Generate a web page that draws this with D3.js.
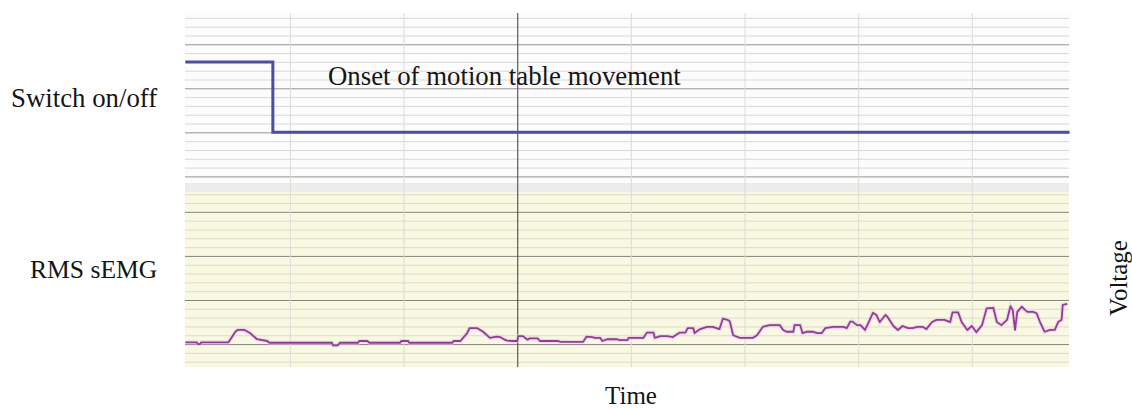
<!DOCTYPE html>
<html>
<head>
<meta charset="utf-8">
<script src="https://cdn.jsdelivr.net/npm/d3@7"></script>
<style>
  body { margin: 0; background: #fff; }
  text { font-family: "Liberation Serif", "Times New Roman", serif; fill: #151515; }
</style>
</head>
<body>
<div id="chart"></div>
<script>
// switch signal (time in grid units, level in grid units)
var switchTime = [0.08, 0.85, 7.86];
var switchLevel = [1.6, 0, 0];

// RMS sEMG trace
var emgTime = [0.08, 0.18, 0.19, 0.21, 0.22, 0.46, 0.52, 0.54, 0.60, 0.65, 0.71, 0.80, 0.82,
  1.37, 1.38, 1.42, 1.44, 1.60, 1.61, 1.68, 1.70, 1.97, 1.98, 2.04, 2.05, 2.43, 2.44, 2.50,
  2.56, 2.58, 2.65, 2.70, 2.76, 2.82, 2.85, 2.89, 2.91, 2.96, 3.00, 3.01, 3.05, 3.09, 3.11,
  3.18, 3.20, 3.36, 3.38, 3.58, 3.61, 3.66, 3.68, 3.73, 3.75, 3.79, 3.88, 3.90, 3.97, 3.98,
  4.11, 4.14, 4.20, 4.21, 4.26, 4.32, 4.37, 4.43, 4.48, 4.50, 4.55, 4.56, 4.61, 4.67, 4.72,
  4.78, 4.81, 4.85, 4.87, 4.90, 4.96, 5.07, 5.11, 5.16, 5.22, 5.31, 5.34, 5.37, 5.43, 5.44,
  5.49, 5.51, 5.55, 5.60, 5.64, 5.68, 5.71, 5.78, 5.87, 5.90, 5.93, 5.95, 5.99, 6.02, 6.06,
  6.09, 6.13, 6.16, 6.19, 6.24, 6.26, 6.31, 6.35, 6.39, 6.44, 6.48, 6.52, 6.57, 6.60, 6.65,
  6.69, 6.76, 6.81, 6.83, 6.88, 6.91, 6.96, 7.00, 7.04, 7.09, 7.13, 7.19, 7.22, 7.26, 7.31,
  7.34, 7.36, 7.38, 7.40, 7.44, 7.47, 7.49, 7.54, 7.57, 7.60, 7.64, 7.69, 7.73, 7.76, 7.79,
  7.80, 7.84];
var emgValue = [0.04, 0.04, 0.0, 0.0, 0.04, 0.04, 0.28, 0.32, 0.32, 0.25, 0.11, 0.07, 0.03,
  0.03, -0.03, -0.03, 0.03, 0.03, 0.07, 0.07, 0.03, 0.03, 0.07, 0.07, 0.03, 0.03, 0.07, 0.07,
  0.25, 0.36, 0.36, 0.28, 0.14, 0.17, 0.16, 0.10, 0.08, 0.07, 0.07, 0.18, 0.18, 0.10, 0.13,
  0.13, 0.07, 0.07, 0.05, 0.05, 0.17, 0.16, 0.14, 0.14, 0.07, 0.11, 0.11, 0.09, 0.09, 0.14,
  0.14, 0.26, 0.26, 0.14, 0.18, 0.18, 0.16, 0.26, 0.26, 0.36, 0.36, 0.25, 0.34, 0.39, 0.39,
  0.34, 0.58, 0.55, 0.52, 0.20, 0.14, 0.14, 0.20, 0.39, 0.43, 0.43, 0.32, 0.28, 0.28, 0.43,
  0.43, 0.25, 0.28, 0.28, 0.25, 0.25, 0.36, 0.39, 0.39, 0.36, 0.51, 0.51, 0.43, 0.43, 0.32,
  0.48, 0.71, 0.66, 0.50, 0.66, 0.61, 0.41, 0.32, 0.41, 0.36, 0.36, 0.39, 0.39, 0.34, 0.50,
  0.55, 0.55, 0.50, 0.72, 0.72, 0.50, 0.32, 0.41, 0.27, 0.43, 0.81, 0.82, 0.50, 0.43, 0.55,
  0.86, 0.77, 0.32, 0.73, 0.85, 0.77, 0.73, 0.73, 0.70, 0.50, 0.28, 0.32, 0.32, 0.50, 0.55,
  0.89, 0.91];

var timeGrid = [1, 2, 3, 4, 5, 6, 7];
var markerTime = 3;   // darker vertical line

var full_width = 1132, full_height = 409;
var left = 185, right = 1069;

var svg = d3.select("#chart").append("svg")
            .attr("width", full_width)
            .attr("height", full_height);

var x = d3.scaleLinear().domain([0.077, 7.855]).range([left, right]);
var ySwitch = d3.scaleLinear().domain([-1.15, 2.71]).range([183, 13]);
var yEmg = d3.scaleLinear().domain([-0.52, 3.45]).range([367, 192]);

function stepsOf(a, b, s) {
    var out = [];
    for (var v = a; v <= b + 1e-9; v += s) out.push(+v.toFixed(2));
    return out;
}

// backgrounds
svg.append("rect").attr("x", left).attr("y", ySwitch(2.71))
   .attr("width", right - left).attr("height", ySwitch(-1.15) - ySwitch(2.71))
   .attr("fill", "#fcfcfc");
svg.append("rect").attr("x", left).attr("y", ySwitch(-1.15))
   .attr("width", right - left).attr("height", yEmg(3.45) - ySwitch(-1.15))
   .attr("fill", "#ececea");
svg.append("rect").attr("x", left).attr("y", yEmg(3.45))
   .attr("width", right - left).attr("height", yEmg(-0.52) - yEmg(3.45))
   .attr("fill", "#f8f8e3");

function hGrid(y, vals, color) {
    var g = svg.append("g")
       .attr("transform", "translate(" + left + ",0)")
       .call(d3.axisLeft(y).tickValues(vals).tickSize(-(right - left)).tickFormat(""));
    g.select(".domain").remove();
    g.selectAll(".tick line").attr("stroke", color).attr("stroke-width", 1);
}

var switchMinor = stepsOf(-1, 2.6, 0.2).filter(function(v) { return Math.abs(v - Math.round(v)) > 0.01; });
var emgMinor = stepsOf(-0.4, 3.4, 0.2).filter(function(v) { return Math.abs(v - Math.round(v)) > 0.01; });

hGrid(ySwitch, switchMinor, "#dcd6d6");
hGrid(ySwitch, [-1, 0, 1, 2], "#939393");
hGrid(yEmg, emgMinor, "#dedcc2");
hGrid(yEmg, [0, 1, 2, 3], "#85857a");

// vertical grid
var vg = svg.append("g")
    .attr("transform", "translate(0," + yEmg(-0.52) + ")")
    .call(d3.axisBottom(x).tickValues(timeGrid).tickSize(-(yEmg(-0.52) - ySwitch(2.71))).tickFormat(""));
vg.select(".domain").remove();
vg.selectAll(".tick line")
  .attr("stroke", function(d) { return d === markerTime ? "#5a5a5a" : "#dcdcd6"; })
  .attr("stroke-width", function(d) { return d === markerTime ? 1.2 : 1; });

// switch line
var switchData = switchTime.map(function(t, i) { return [t, switchLevel[i]]; });
svg.append("path")
   .datum(switchData)
   .attr("fill", "none")
   .attr("stroke", "#4b4fa3")
   .attr("stroke-width", 3)
   .attr("d", d3.line().curve(d3.curveStepAfter)
        .x(function(d) { return x(d[0]); })
        .y(function(d) { return ySwitch(d[1]); }));

// emg trace
var emgData = emgTime.map(function(t, i) { return [t, emgValue[i]]; });
var emgLine = d3.line()
    .x(function(d) { return x(d[0]); })
    .y(function(d) { return yEmg(d[1]); });
svg.append("path").datum(emgData)
   .attr("fill", "none").attr("stroke", "#e9c3e6").attr("stroke-width", 4)
   .attr("stroke-opacity", 0.6).attr("d", emgLine);
svg.append("path").datum(emgData)
   .attr("fill", "none").attr("stroke", "#963a99").attr("stroke-width", 1.8)
   .attr("stroke-linejoin", "round").attr("d", emgLine);

// texts
svg.append("text").attr("x", 328).attr("y", 85).attr("font-size", 26.8)
   .text("Onset of motion table movement");
svg.append("text").attr("x", 11).attr("y", 107).attr("font-size", 26.8)
   .text("Switch on/off");
svg.append("text").attr("x", 30).attr("y", 278).attr("font-size", 25.6)
   .text("RMS sEMG");
svg.append("text").attr("x", 631).attr("y", 404).attr("font-size", 25)
   .attr("text-anchor", "middle").text("Time");
svg.append("text").attr("transform", "translate(1127,278) rotate(-90)")
   .attr("font-size", 25).attr("text-anchor", "middle").text("Voltage");
</script>
</body>
</html>
